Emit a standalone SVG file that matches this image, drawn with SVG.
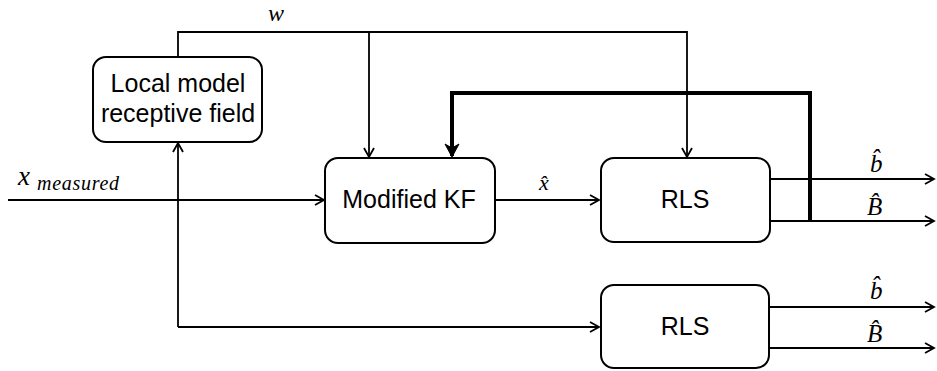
<svg xmlns="http://www.w3.org/2000/svg" width="937" height="371" viewBox="0 0 937 371">
  <style>
    .box { fill: #fff; stroke: #000; stroke-width: 2; }
    .lbl { font-family: "Liberation Sans", Arial, sans-serif; font-size: 25px; fill: #000; text-anchor: middle; }
    .math { font-family: "Liberation Serif", "DejaVu Serif", serif; font-style: italic; fill: #000; }
    .wire { fill: none; stroke: #000; stroke-width: 1.8; }
    .thick { fill: none; stroke: #000; stroke-width: 4; }
  </style>
  <defs>
    <marker id="arr" markerWidth="12" markerHeight="12" refX="10" refY="6" orient="auto" markerUnits="userSpaceOnUse">
      <path d="M1,1 L10,6 L1,11" fill="none" stroke="#000" stroke-width="1.8"/>
    </marker>
    <marker id="arrBold" markerWidth="16" markerHeight="16" refX="13" refY="8" orient="auto" markerUnits="userSpaceOnUse">
      <path d="M1,1 L14,8 L1,15 L5,8 Z" fill="#000" stroke="#000" stroke-width="1"/>
    </marker>
  </defs>

  <g id="connectors">
    <!-- w bus from local model to both estimators -->
    <path class="wire" d="M178,57 V32 H687 V157" marker-end="url(#arr)"/>
    <path class="wire" d="M369,32 V157" marker-end="url(#arr)"/>
    <!-- measured input -->
    <path class="wire" d="M8,200 H324" marker-end="url(#arr)"/>
    <!-- feed into receptive field and lower RLS -->
    <path class="wire" d="M178,327 V143" marker-end="url(#arr)"/>
    <path class="wire" d="M178,327 H599" marker-end="url(#arr)"/>
    <!-- state estimate -->
    <path class="wire" d="M495,200 H599" marker-end="url(#arr)"/>
    <!-- upper RLS outputs -->
    <path class="wire" d="M770,179 H934" marker-end="url(#arr)"/>
    <path class="wire" d="M770,221 H934" marker-end="url(#arr)"/>
    <!-- lower RLS outputs -->
    <path class="wire" d="M769,307 H934" marker-end="url(#arr)"/>
    <path class="wire" d="M769,348 H934" marker-end="url(#arr)"/>
    <!-- feedback of B-hat into the filter -->
    <path class="thick" d="M810,221 V93 H452 V156" marker-end="url(#arrBold)"/>
  </g>

  <g id="local-model">
    <rect class="box" x="93" y="57" width="169" height="85" rx="13"/>
    <text class="lbl" x="178" y="92">Local model</text>
    <text class="lbl" x="178" y="122">receptive field</text>
  </g>

  <g id="modified-kf">
    <rect class="box" x="325" y="158" width="170" height="85" rx="13"/>
    <text class="lbl" x="409" y="208">Modified KF</text>
  </g>

  <g id="rls-top">
    <rect class="box" x="601" y="158" width="169" height="84" rx="13"/>
    <text class="lbl" x="685" y="208">RLS</text>
  </g>

  <g id="rls-bottom">
    <rect class="box" x="601" y="285" width="168" height="83" rx="13"/>
    <text class="lbl" x="685" y="335">RLS</text>
  </g>

  <g id="labels">
    <text class="math" x="268" y="21" font-size="24">w</text>
    <text class="math" x="18" y="185" font-size="27">x<tspan font-size="20" x="37" y="190" textLength="82" lengthAdjust="spacing">measured</tspan></text>
    <text class="math" x="539" y="190" font-size="22">x̂</text>
    <text class="math" x="870" y="172" font-size="25">b̂</text>
    <text class="math" x="867" y="215" font-size="25">B̂</text>
    <text class="math" x="870" y="299" font-size="25">b̂</text>
    <text class="math" x="867" y="342" font-size="25">B̂</text>
  </g>
</svg>
